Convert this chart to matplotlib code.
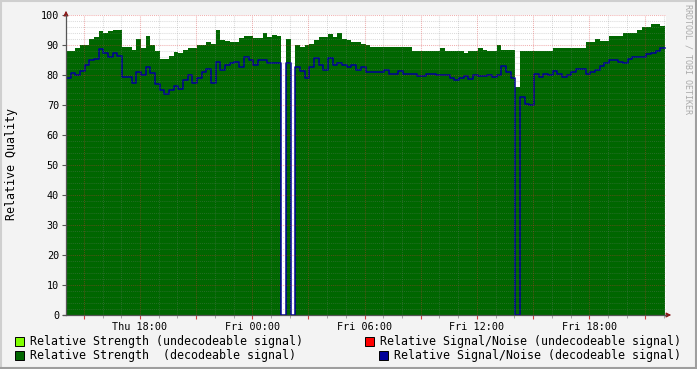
import matplotlib
matplotlib.use("Agg")
import matplotlib.pyplot as plt
import matplotlib.patches as mpatches
from matplotlib.lines import Line2D
import numpy as np

# ---------------- data ----------------
start_hour = 14.05          # hours since Thu 00:00
step_hours = 0.25

strength_decodeable = [
    88, 88, 89, 90, 90, 92, 92.8, 94.8, 94, 94.8,
    95, 95, 89.5, 89.5, 88.3, 92, 89, 93, 90, 88,
    85.5, 85.2, 86.3, 87.8, 87.2, 88.3, 89, 89, 90, 90,
    91, 90.5, 95, 91.7, 91.4, 91.1, 91.1, 92.5, 93, 93,
    92.2, 92.2, 94, 92.8, 93.5, 93, 0, 92, 0, 90,
    89.4, 90, 90.5, 91.7, 92.8, 92.8, 93.7, 92.8, 94, 92,
    91.7, 91.1, 91.1, 90.5, 90, 89.2, 89.2, 89.2, 89.2, 89.2,
    89.2, 89.2, 89.2, 89.2, 88.1, 88.1, 88.1, 88.1, 88.1, 88.1,
    89, 88.1, 88.1, 88.1, 88.1, 87.5, 88, 88, 89, 88.5,
    88, 88, 90, 88.5, 88.5, 88.5, 76, 88, 88, 88,
    88, 88, 88, 88, 89, 89, 89, 89, 89, 89,
    89, 90.9, 90.9, 92, 91.3, 91.3, 93, 93, 93, 94,
    94, 94, 95, 96, 96, 97, 97, 96.4,
]

snr_decodeable = [
    78.9, 80.6, 80, 81.5, 83.5, 85, 85.5, 88.6, 87.5, 86,
    87.2, 86.4, 79.4, 79.4, 77.5, 81, 80, 82.8, 80.6, 77,
    75, 73.7, 75, 76.5, 75.5, 78.3, 80, 77.5, 78.9, 81.1,
    81.9, 77.5, 84.5, 81.7, 83.5, 83.9, 84.4, 82.8, 85.9, 85,
    83.3, 85, 85, 84.1, 84.1, 84, 0, 84, 0, 82.8,
    81.5, 79, 82.8, 85.6, 83.5, 81.7, 85.6, 83.5, 84, 83.5,
    82.8, 83.3, 81.7, 82.8, 81, 81, 81, 81, 81.7, 80.5,
    80.5, 81.2, 80.5, 80.5, 80.5, 79.7, 79.7, 80.5, 80.5, 80,
    80, 80, 79, 78.3, 79, 79.7, 78.7, 80, 79.7, 79.7,
    80, 79.5, 80, 83, 81, 78.9, 0, 72.8, 70.5, 70,
    80.5, 79.5, 80.5, 80, 81.5, 80.5, 79.4, 80, 81.1, 82,
    82, 80.5, 80.9, 81.7, 83, 84, 85, 85, 84.4, 83.9,
    85.5, 86.1, 86.1, 86.1, 87, 87.5, 88, 88.9,
]

x_tick_hours = [18, 24, 30, 36, 42]
x_tick_labels = ["Thu 18:00", "Fri 00:00", "Fri 06:00", "Fri 12:00", "Fri 18:00"]
y_tick_values = [0, 10, 20, 30, 40, 50, 60, 70, 80, 90, 100]

legend_items = [
    ("Relative Strength (undecodeable signal)", "#80FF00"),
    ("Relative Signal/Noise (undecodeable signal)", "#FF0000"),
    ("Relative Strength  (decodeable signal)", "#006600"),
    ("Relative Signal/Noise (decodeable signal)", "#000099"),
]

# ---------------- figure ----------------
W, H = 697, 369
DPI = 100
fig = plt.figure(figsize=(W / DPI, H / DPI), dpi=DPI, facecolor="#F3F3F3")
MONO = "DejaVu Sans Mono"


def fx(px):
    return px / W


def fy(py):
    return 1 - py / H


L, R, T, B = 66, 666, 15, 315
ax = fig.add_axes([fx(L), fy(B), (R - L) / W, (B - T) / H])
ax.set_facecolor("white")

n = len(strength_decodeable)
edges = start_hour + step_hours * np.arange(n + 1)
s_vals = np.append(strength_decodeable, strength_decodeable[-1])
n_vals = np.append(snr_decodeable, snr_decodeable[-1])

ax.fill_between(edges, s_vals, 0, step="post", color="#006600", lw=0, zorder=1)
ax.step(edges, n_vals, where="post", color="#000099", lw=1.1, zorder=2)

ax.set_xlim(14.05, 46.1)
ax.set_ylim(0, 100)

# grid (drawn on top, as rrdtool does)
minor_c = (0.5, 0.5, 0.5, 0.28)
major_c = (0.85, 0.2, 0.2, 0.38)
for yv in np.arange(0, 101, 2):
    if yv % 10 == 0:
        continue
    ax.axhline(yv, color=minor_c, lw=0.75, ls=(0, (1, 1)), zorder=3)
for xv in np.arange(15, 47, 1):
    if xv % 3 == 0:
        continue
    ax.axvline(xv, color=minor_c, lw=0.75, ls=(0, (1, 1)), zorder=3)
for yv in y_tick_values[1:]:
    ax.axhline(yv, color=major_c, lw=0.75, ls=(0, (1, 1)), zorder=3)
for xv in np.arange(15, 47, 3):
    ax.axvline(xv, color=major_c, lw=0.75, ls=(0, (1, 1)), zorder=3)

for s in ax.spines.values():
    s.set_visible(False)

# ticks
ax.set_yticks(y_tick_values)
ax.set_yticklabels([str(v) for v in y_tick_values], fontfamily=MONO, fontsize=7.3)
ax.tick_params(axis="y", length=3, width=0.8, color="#555555", pad=2)
major_x = list(np.arange(15, 47, 3))
ax.set_xticks(major_x)
ax.set_xticklabels([x_tick_labels[x_tick_hours.index(h)] if h in x_tick_hours else "" for h in major_x],
                   fontfamily=MONO, fontsize=7.3)
ax.tick_params(axis="x", length=3, width=0.8, color="#D04040", pad=2)
ax.set_xticks([h for h in range(15, 47) if h % 3], minor=True)
ax.tick_params(axis="x", which="minor", length=2, width=0.6, color="#999999")

# axis lines with arrows
ax.add_line(Line2D([0, 0], [0, 1.0], transform=ax.transAxes, color="#555555", lw=0.9, clip_on=False, zorder=5))
ax.add_line(Line2D([-0.005, 1.0], [0, 0], transform=ax.transAxes, color="#555555", lw=0.9, clip_on=False, zorder=5))
ax.annotate("", xy=(0, 1.0 + 7 / 300), xytext=(0, 0.995), xycoords="axes fraction",
            arrowprops=dict(arrowstyle="-|>", color="#8B1A1A", lw=0.8, mutation_scale=7), annotation_clip=False)
ax.annotate("", xy=(1.0 + 8 / 600, 0), xytext=(0.998, 0), xycoords="axes fraction",
            arrowprops=dict(arrowstyle="-|>", color="#8B1A1A", lw=0.8, mutation_scale=7), annotation_clip=False)

# y label
fig.text(fx(12), fy(164), "Relative Quality", rotation=90, ha="center", va="center",
         fontfamily=MONO, fontsize=8.4, color="black")

# watermark
fig.text(fx(688), fy(4), "RRDTOOL / TOBI OETIKER", rotation=270, ha="center", va="top",
         fontfamily=MONO, fontsize=6, color="#AAAAAA")

# legend
legend_pos = [(15, 341.5, 30), (365, 341.5, 380), (15, 355, 30), (379, 355, 394)]
for (label, col), (sx, cy, tx) in zip(legend_items, legend_pos):
    fig.patches.append(mpatches.Rectangle((fx(sx), fy(cy + 4.5)), 9 / W, 9 / H, transform=fig.transFigure,
                                          facecolor=col, edgecolor="black", lw=0.7))
    fig.text(fx(tx), fy(cy), label, ha="left", va="center", fontfamily=MONO, fontsize=8.4, color="black")

# frame
fig.add_artist(Line2D([0, 1], [1 - 1 / H, 1 - 1 / H], transform=fig.transFigure, color="#CFCFCF", lw=1.5))
fig.add_artist(Line2D([1 / W, 1 / W], [0, 1], transform=fig.transFigure, color="#CFCFCF", lw=1.5))
fig.add_artist(Line2D([0, 1], [1 / H, 1 / H], transform=fig.transFigure, color="#9E9E9E", lw=1.5))
fig.add_artist(Line2D([1 - 1 / W, 1 - 1 / W], [0, 1], transform=fig.transFigure, color="#9E9E9E", lw=1.5))

fig.savefig("out.png", dpi=DPI, facecolor=fig.get_facecolor())
